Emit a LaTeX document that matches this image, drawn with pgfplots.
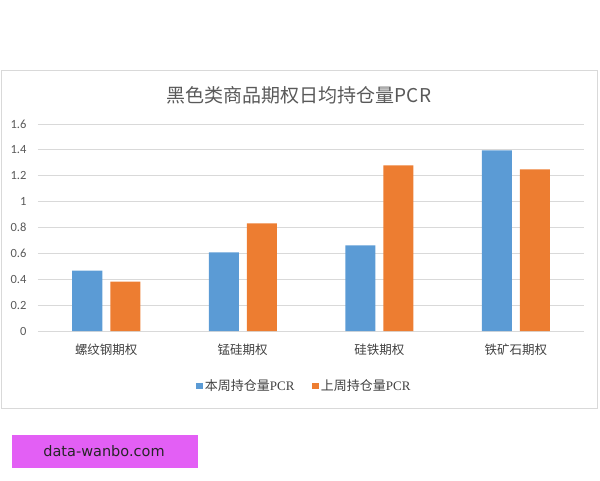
\documentclass[border=0pt]{standalone}
\usepackage{pgfplots}
\pgfplotsset{compat=1.18}
\usepackage{fontspec}
\setmainfont{Carlito}
\newfontfamily\cjk{Noto Sans CJK SC}
\newfontfamily\stampfont{DejaVu Sans}
\newfontfamily\latinserif{Liberation Serif}
\definecolor{thisweek}{HTML}{5B9BD5}
\definecolor{lastweek}{HTML}{ED7D31}
\definecolor{gridgray}{HTML}{D9D9D9}
\definecolor{txtgray}{HTML}{595959}
\definecolor{catgray}{HTML}{404040}
\definecolor{stamp}{HTML}{E35FF5}
\begin{document}
\begin{tikzpicture}
\path[use as bounding box] (0pt,0pt) rectangle (600pt,480pt);
\draw[gridgray,line width=0.8pt] (1pt,410pt) rectangle (597pt,72pt);
\node[text=txtgray,font=\cjk\fontsize{19}{22}\selectfont] at (299pt,385pt) {黑色类商品期权日均持仓量PCR};
\begin{axis}[
    at={(38pt,149pt)}, anchor=south west,
    scale only axis,
    width=546pt, height=207pt,
    xmin=-0.5, xmax=3.5,
    ymin=0, ymax=1.6,
    ybar, bar width=30pt,
    ytick={0,0.2,0.4,0.6,0.8,1,1.2,1.4,1.6},
    yticklabels={0,0.2,0.4,0.6,0.8,1,1.2,1.4,1.6},
    xtick={0,1,2,3},
    xticklabels={螺纹钢期权,锰硅期权,硅铁期权,铁矿石期权},
    major tick length=0pt,
    axis line style={draw=none},
    ymajorgrids,
    grid style={draw=gridgray,line width=0.8pt},
    yticklabel style={font=\fontsize{12.5}{14}\selectfont,text=txtgray,anchor=east,xshift=-8pt},
    xticklabel style={font=\cjk\fontsize{12.5}{14}\selectfont,text=catgray,yshift=-9pt},
    /pgf/number format/assume math mode=true,
    legend style={at={(0.488,-0.266)},anchor=center,draw=none,fill=none,
        legend columns=2,font=\cjk\fontsize{13}{15}\selectfont,text=catgray,
        /tikz/every even column/.append style={column sep=16pt}},
    legend image code/.code={\fill[#1] (0pt,-3pt) rectangle (6.5pt,3.5pt);},
    clip=false,
]
\addplot[draw=none,fill=thisweek,bar shift=-19pt] coordinates {(0,0.466) (1,0.608) (2,0.662) (3,1.397)};
\addplot[draw=none,fill=lastweek,bar shift=19pt] coordinates {(0,0.381) (1,0.832) (2,1.281) (3,1.250)};
\legend{本周持仓量{\latinserif PCR},上周持仓量{\latinserif PCR}}
\end{axis}
\fill[stamp] (12pt,45pt) rectangle (198pt,12pt);
\node[font=\stampfont\fontsize{14.5}{16}\selectfont,text=black!85] at (104pt,28.5pt) {data-wanbo.com};
\end{tikzpicture}
\end{document}
